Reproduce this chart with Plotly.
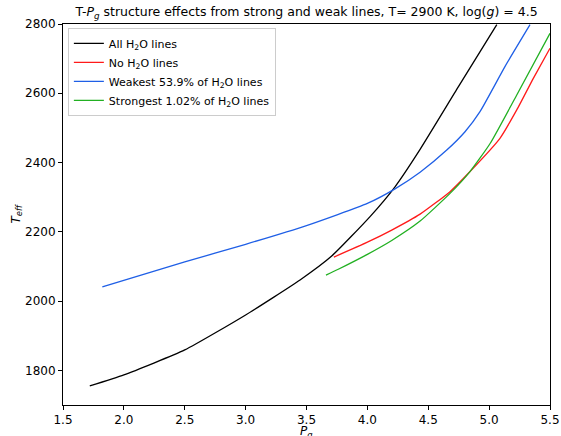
import plotly.graph_objects as go

# Data
all_x = [1.72, 2.0, 2.5, 3.0, 3.447, 3.707, 4.022, 4.227, 4.433, 4.748, 5.063]
all_y = [1755, 1787, 1859, 1960, 2061, 2130, 2244, 2330, 2438, 2619, 2798]

no_x = [3.725, 4.0, 4.2, 4.433, 4.679, 4.843, 5.089, 5.227, 5.363, 5.5]
no_y = [2127, 2170, 2205, 2251, 2316, 2374, 2470, 2552, 2643, 2730]

weak_x = [1.823, 2.5, 3.0, 3.5, 4.0, 4.227, 4.433, 4.652, 4.802, 4.925, 5.13, 5.336]
weak_y = [2041, 2113, 2164, 2218, 2282, 2324, 2372, 2436, 2489, 2547, 2677, 2798]

strong_x = [3.66, 3.761, 4.0, 4.2, 4.433, 4.679, 4.843, 5.008, 5.227, 5.5]
strong_y = [2075, 2092, 2135, 2175, 2231, 2311, 2374, 2455, 2595, 2773]

series = [
    ("All H<sub>2</sub>O lines", all_x, all_y, "#000000"),
    ("No H<sub>2</sub>O lines", no_x, no_y, "#ff1a1a"),
    ("Weakest 53.9% of H<sub>2</sub>O lines", weak_x, weak_y, "#1f5fe6"),
    ("Strongest 1.02% of H<sub>2</sub>O lines", strong_x, strong_y, "#22b022"),
]

fig = go.Figure()
for name, xs, ys, col in series:
    fig.add_trace(go.Scatter(x=xs, y=ys, mode="lines", name=name,
                             line=dict(color=col, width=1.3, shape="spline", smoothing=0.5)))

font = "DejaVu Sans"
fig.update_layout(
    width=561, height=436,
    margin=dict(l=63, r=11, t=24, b=31),
    paper_bgcolor="white", plot_bgcolor="white",
    font=dict(family=font, size=12, color="#000"),
    title=dict(
        text="T-<i>P<sub>g</sub></i> structure effects from strong and weak lines, T= 2900 K, log(<i>g</i>) = 4.5",
        x=0.5, xref="paper", xanchor="center",
        y=1 - 12 / 436, yref="container", yanchor="middle",
        font=dict(family=font, size=12.5, color="#000"),
    ),
    showlegend=True,
    legend=dict(
        x=0.01, y=0.99, xanchor="left", yanchor="top",
        bgcolor="rgba(255,255,255,0.8)", bordercolor="#cccccc", borderwidth=1,
        font=dict(family=font, size=11, color="#000"),
        tracegroupgap=0, itemwidth=30,
    ),
    xaxis=dict(
        range=[1.5, 5.5], tickvals=[1.5, 2.0, 2.5, 3.0, 3.5, 4.0, 4.5, 5.0, 5.5],
        ticktext=["1.5", "2.0", "2.5", "3.0", "3.5", "4.0", "4.5", "5.0", "5.5"],
        showgrid=False, zeroline=False, showline=True, linecolor="#000", linewidth=1,
        mirror=True, ticks="outside", ticklen=4, tickcolor="#000",
        automargin=False,
    ),
    yaxis=dict(
        range=[1700, 2800], tickvals=[1800, 2000, 2200, 2400, 2600, 2800],
        showgrid=False, zeroline=False, showline=True, linecolor="#000", linewidth=1,
        mirror=True, ticks="outside", ticklen=4, tickcolor="#000",
        automargin=False,
    ),
    annotations=[
        dict(text="<i>P<sub>g</sub></i>", xref="paper", yref="paper",
             x=0.5, y=-(432 - 405) / 381, xanchor="center", yanchor="middle",
             showarrow=False, font=dict(family=font, size=12, color="#000")),
        dict(text="<i>T<sub>eff</sub></i>", xref="paper", yref="paper",
             x=-(63 - 16) / 487, y=0.5, xanchor="center", yanchor="middle",
             textangle=-90, showarrow=False, font=dict(family=font, size=12, color="#000")),
    ],
)

fig.write_html("out.html")
